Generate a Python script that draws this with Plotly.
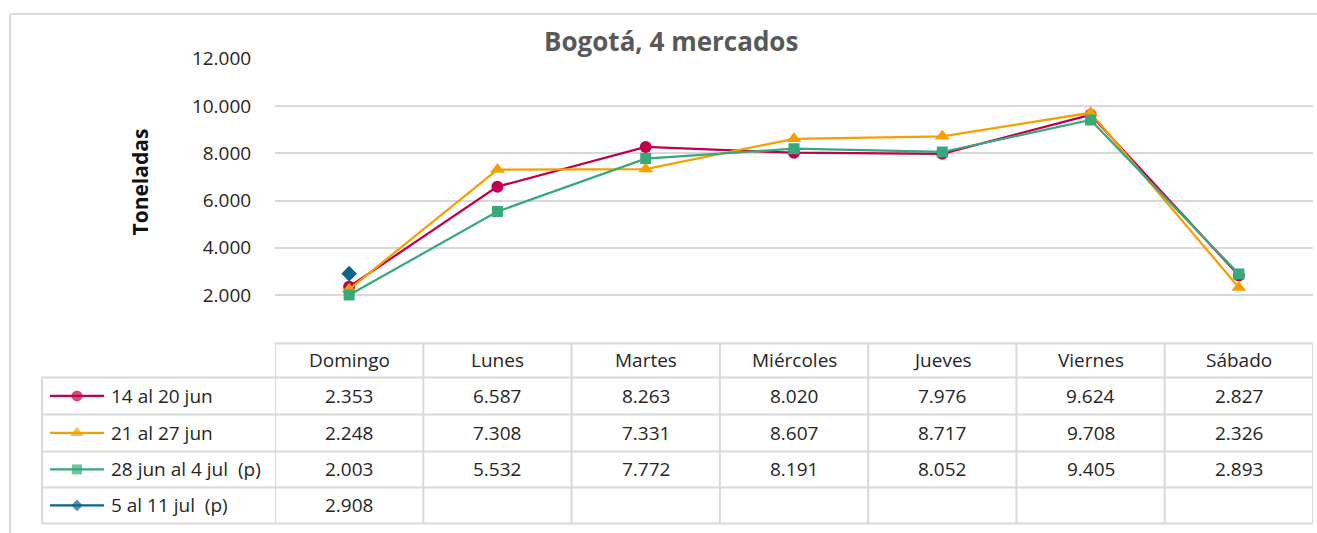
import plotly.graph_objects as go

# ---------------- data ----------------
dias = ["Domingo", "Lunes", "Martes", "Miércoles", "Jueves", "Viernes", "Sábado"]
serie_nombres = ["14 al 20 jun", "21 al 27 jun", "28 jun al 4 jul  (p)", "5 al 11 jul  (p)"]
s1 = [2353, 6587, 8263, 8020, 7976, 9624, 2827]
s2 = [2248, 7308, 7331, 8607, 8717, 9708, 2326]
s3 = [2003, 5532, 7772, 8191, 8052, 9405, 2893]
s4 = [2908, None, None, None, None, None, None]
y_ticks = [2000, 4000, 6000, 8000, 10000, 12000]
titulo = "Bogotá, 4 mercados"
eje_y = "Toneladas"

series = [s1, s2, s3, s4]
colores = ["#C0004F", "#F5A000", "#37A97A", "#0B6489"]
simbolos = ["circle", "triangle-up", "square", "diamond"]
tam_marc = [12, 13, 11, 12]
tam_clave = [11, 12, 10, 9]

W, H = 1317, 533
# vertical calibration of the capture (observed: band on top + slight squeeze)
OY, SY = 12.4, 0.976
FONT = "'Open Sans', Carlito, Lato, sans-serif"
GRID = "#D9D9D9"
TXT = "#262626"
FS = 19


def px(x):
    return x / W


def py(y):
    return 1 - (y - OY) / (SY * H)


fig = go.Figure()

# data lines
for nombre, vals, c, s, m in zip(serie_nombres, series, colores, simbolos, tam_marc):
    fig.add_trace(go.Scatter(
        x=dias, y=vals, name=nombre, mode="lines+markers",
        line=dict(color=c, width=2.25),
        marker=dict(symbol=s, size=m, color=c, line=dict(width=0)),
        showlegend=False, xaxis="x", yaxis="y",
    ))

# table geometry (target pixels)
plot_left, plot_right = 275, 1313
grid_top, grid_zero = 58, 342
tbl_top = 343
row_lines = [377, 414, 451, 487, 523]
legend_left = 42
header_c = 360
row_c = [395.5, 432.5, 469, 505]

shapes = []
# outer chart frame
shapes.append(dict(type="line", xref="paper", yref="paper", x0=px(10), x1=px(10), y0=py(13.4), y1=py(560),
                   line=dict(color=GRID, width=2)))
shapes.append(dict(type="line", xref="paper", yref="paper", x0=px(10), x1=px(1340), y0=py(13.4), y1=py(13.4),
                   line=dict(color=GRID, width=2)))
# table horizontal lines
shapes.append(dict(type="line", xref="paper", yref="paper", x0=px(plot_left), x1=px(plot_right),
                   y0=py(tbl_top), y1=py(tbl_top), line=dict(color=GRID, width=2)))
for yl in row_lines:
    shapes.append(dict(type="line", xref="paper", yref="paper", x0=px(legend_left), x1=px(plot_right),
                       y0=py(yl), y1=py(yl), line=dict(color=GRID, width=2)))
# table vertical lines (category boundaries)
for k in range(len(dias) + 1):
    shapes.append(dict(type="line", xref="x", yref="paper", x0=k - 0.5, x1=k - 0.5,
                       y0=py(tbl_top), y1=py(row_lines[-1]), line=dict(color=GRID, width=2)))
shapes.append(dict(type="line", xref="paper", yref="paper", x0=px(legend_left), x1=px(legend_left),
                   y0=py(row_lines[0]), y1=py(row_lines[-1]), line=dict(color=GRID, width=2)))
# legend key lines
for yc, c in zip(row_c, colores):
    shapes.append(dict(type="line", xref="paper", yref="paper", x0=px(50), x1=px(104),
                       y0=py(yc), y1=py(yc), line=dict(color=c, width=2.25)))

annotations = []
annotations.append(dict(text=f"<b>{titulo}</b>", x=px(671), y=py(40), xref="paper", yref="paper",
                        xanchor="center", yanchor="middle",
                        showarrow=False, font=dict(size=26, color="#595959", family=FONT)))
annotations.append(dict(text=f"<b>{eje_y}</b>", x=px(140), y=py(182), xref="paper", yref="paper",
                        xanchor="center", yanchor="middle",
                        showarrow=False, textangle=-90, font=dict(size=21, color="#111111", family=FONT)))
# header cells
for d in dias:
    annotations.append(dict(text=d, x=d, y=py(header_c), xref="x", yref="paper", showarrow=False,
                            xanchor="center", yanchor="middle",
                            font=dict(size=FS, color=TXT, family=FONT)))
# data cells
for vals, yc in zip(series, row_c):
    for d, v in zip(dias, vals):
        if v is None:
            continue
        annotations.append(dict(text=f"{v:,}".replace(",", "."), x=d, y=py(yc), xref="x", yref="paper",
                                xanchor="center", yanchor="middle",
                                showarrow=False, font=dict(size=FS, color=TXT, family=FONT)))
# legend labels
for nombre, yc in zip(serie_nombres, row_c):
    annotations.append(dict(text=nombre, x=px(109), y=py(yc), xref="paper", yref="paper",
                            xanchor="left", yanchor="middle",
                            showarrow=False, font=dict(size=FS, color=TXT, family=FONT)))

# legend key markers on an overlay axis laid out in target pixels
fig.add_trace(go.Scatter(
    x=[77] * 4, y=row_c, mode="markers", xaxis="x2", yaxis="y2", showlegend=False, hoverinfo="skip",
    marker=dict(symbol=simbolos, size=tam_clave, color=colores, line=dict(width=0)),
))

fig.update_layout(
    width=W, height=H,
    margin=dict(l=0, r=0, t=0, b=0),
    paper_bgcolor="white", plot_bgcolor="rgba(0,0,0,0)",
    separators=",.",
    font=dict(family=FONT, color=TXT, size=FS),
    xaxis=dict(domain=[px(plot_left), px(plot_right)], range=[-0.5, 6.5], showticklabels=False,
               showgrid=False, zeroline=False, showline=False, anchor="y"),
    yaxis=dict(domain=[py(grid_zero), py(grid_top)], range=[0, 12000], tickvals=y_ticks,
               tickformat=",d", showgrid=True, gridcolor=GRID, gridwidth=2, zeroline=False,
               showline=False, ticks="outside", ticklen=19, tickcolor="rgba(0,0,0,0)",
               tickfont=dict(size=FS, color=TXT, family=FONT), anchor="x"),
    xaxis2=dict(domain=[0, 1], range=[0, W], visible=False, anchor="y2"),
    yaxis2=dict(domain=[0, 1], range=[OY + SY * H, OY], visible=False, anchor="x2"),
    shapes=shapes,
    annotations=annotations,
    hovermode=False,
)

fig.write_html(
    "out.html",
    config={"displayModeBar": False},
    post_script=(
        "document.documentElement.style.margin='0';document.documentElement.style.overflow='hidden';"
        "document.body.style.margin='0';document.body.style.overflow='hidden';"
        "var d=document.getElementById('{plot_id}');d.style.position='fixed';"
        "d.style.top='0px';d.style.left='0px';"
    ),
)
